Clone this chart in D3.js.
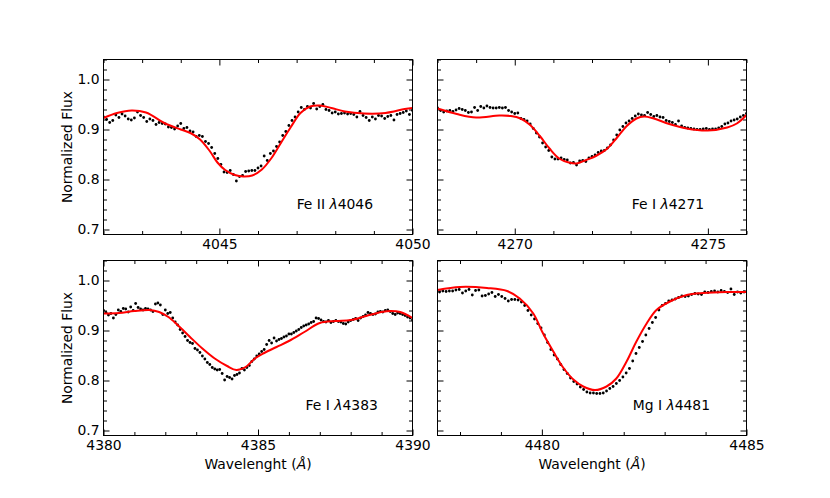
<!DOCTYPE html>
<html>
<head>
<meta charset="utf-8">
<script src="https://cdn.jsdelivr.net/npm/d3@7"></script>
<style>
  body { margin: 0; background: #fff; }
  svg { display: block; font-family: "DejaVu Sans", sans-serif; }
</style>
</head>
<body>
<div id="chart"></div>
<script>
// observed spectra are sampled every obsStep angstrom from their start wavelength
const obsStep = 0.08

const fe4046Start = 4042.0
const fe4046Obs = [0.925, 0.920, 0.914, 0.918, 0.929, 0.924, 0.931, 0.927, 0.921, 0.919,
  0.923, 0.935, 0.928, 0.924, 0.916, 0.921, 0.918, 0.910, 0.914, 0.912,
  0.911, 0.905, 0.904, 0.901, 0.907, 0.912, 0.902, 0.904, 0.897, 0.895,
  0.886, 0.888, 0.886, 0.876, 0.872, 0.864, 0.852, 0.842, 0.830, 0.815,
  0.814, 0.818, 0.810, 0.797, 0.806, 0.808, 0.816, 0.817, 0.818, 0.818,
  0.823, 0.827, 0.847, 0.838, 0.852, 0.857, 0.866, 0.875, 0.888, 0.896,
  0.908, 0.918, 0.925, 0.935, 0.944, 0.940, 0.946, 0.943, 0.952, 0.941,
  0.946, 0.950, 0.940, 0.938, 0.933, 0.935, 0.931, 0.932, 0.933, 0.931,
  0.932, 0.930, 0.925, 0.936, 0.928, 0.924, 0.918, 0.925, 0.921, 0.928,
  0.927, 0.922, 0.926, 0.928, 0.919, 0.930, 0.932, 0.934, 0.937, 0.930, 0.938]
const fe4046ModelWave = [4042.0, 4042.35, 4042.73, 4043.1, 4043.6, 4044.0, 4044.25, 4044.5, 4044.75,
  4044.95, 4045.15, 4045.4, 4045.62, 4045.85, 4046.1, 4046.35, 4046.6, 4046.85, 4047.1, 4047.35,
  4047.6, 4047.9, 4048.25, 4048.75, 4049.3, 4049.8, 4050.0]
const fe4046ModelFlux = [0.923, 0.933, 0.938, 0.934, 0.912, 0.900, 0.893, 0.880, 0.857,
  0.834, 0.819, 0.809, 0.806, 0.808, 0.820, 0.843, 0.874, 0.905, 0.933, 0.946,
  0.948, 0.943, 0.936, 0.932, 0.933, 0.941, 0.943]

const fe4271Start = 4268.0
const fe4271Obs = [0.943, 0.938, 0.935, 0.937, 0.938, 0.936, 0.939, 0.942, 0.940, 0.938,
  0.934, 0.935, 0.944, 0.938, 0.946, 0.943, 0.947, 0.944, 0.943, 0.943,
  0.944, 0.943, 0.944, 0.938, 0.935, 0.932, 0.933, 0.922, 0.920, 0.917,
  0.911, 0.902, 0.893, 0.885, 0.873, 0.865, 0.858, 0.845, 0.841, 0.841,
  0.843, 0.840, 0.839, 0.833, 0.834, 0.829, 0.837, 0.838, 0.836, 0.843,
  0.846, 0.849, 0.854, 0.857, 0.858, 0.863, 0.869, 0.879, 0.889, 0.899,
  0.906, 0.913, 0.917, 0.922, 0.927, 0.931, 0.929, 0.928, 0.934, 0.930,
  0.926, 0.928, 0.925, 0.924, 0.918, 0.916, 0.914, 0.910, 0.917, 0.907,
  0.904, 0.903, 0.902, 0.901, 0.900, 0.900, 0.901, 0.902, 0.900, 0.901,
  0.901, 0.903, 0.906, 0.911, 0.913, 0.917, 0.919, 0.921, 0.925, 0.928, 0.932]
const fe4271ModelWave = [4268.0, 4268.5, 4269.0, 4269.6, 4269.9, 4270.15, 4270.4, 4270.65, 4270.9,
  4271.15, 4271.4, 4271.6, 4271.85, 4272.1, 4272.4, 4272.65, 4272.9, 4273.15, 4273.35, 4273.6,
  4274.0, 4274.45, 4275.0, 4275.5, 4275.75, 4276.0]
const fe4271ModelFlux = [0.942, 0.931, 0.924, 0.928, 0.927, 0.922, 0.909, 0.887, 0.862,
  0.842, 0.834, 0.832, 0.839, 0.847, 0.862, 0.884, 0.907, 0.922, 0.926, 0.922,
  0.911, 0.902, 0.898, 0.904, 0.912, 0.929]

const fe4383Start = 4380.0
const fe4383Obs = [0.940, 0.936, 0.931, 0.934, 0.925, 0.932, 0.941, 0.938, 0.944, 0.943,
  0.937, 0.947, 0.940, 0.954, 0.946, 0.943, 0.941, 0.944, 0.943, 0.941,
  0.938, 0.953, 0.955, 0.951, 0.932, 0.941, 0.934, 0.936, 0.925, 0.917,
  0.911, 0.902, 0.895, 0.888, 0.880, 0.876, 0.874, 0.864, 0.861, 0.856,
  0.849, 0.843, 0.836, 0.832, 0.826, 0.823, 0.821, 0.822, 0.814, 0.801,
  0.808, 0.806, 0.803, 0.810, 0.812, 0.815, 0.824, 0.821, 0.826, 0.830,
  0.838, 0.843, 0.849, 0.853, 0.858, 0.862, 0.872, 0.880, 0.875, 0.885,
  0.879, 0.882, 0.884, 0.887, 0.889, 0.893, 0.893, 0.896, 0.899, 0.902,
  0.906, 0.909, 0.911, 0.913, 0.916, 0.918, 0.925, 0.924, 0.921, 0.918,
  0.917, 0.920, 0.916, 0.918, 0.920, 0.918, 0.917, 0.914, 0.913, 0.917,
  0.920, 0.922, 0.924, 0.920, 0.925, 0.928, 0.931, 0.936, 0.934, 0.932,
  0.933, 0.937, 0.938, 0.937, 0.940, 0.941, 0.938, 0.934, 0.932, 0.935,
  0.934, 0.932, 0.930, 0.927, 0.925, 0.921]
const fe4383ModelWave = [4380.0, 4380.5, 4381.0, 4381.5, 4381.8, 4382.1, 4382.4, 4382.8, 4383.2,
  4383.6, 4384.0, 4384.3, 4384.6, 4384.9, 4385.2, 4385.6, 4386.0, 4386.5, 4387.0, 4387.5,
  4388.0, 4388.5, 4389.0, 4389.3, 4389.6, 4390.0]
const fe4383ModelFlux = [0.934, 0.935, 0.939, 0.941, 0.937, 0.927, 0.911, 0.887, 0.864,
  0.844, 0.829, 0.821, 0.827, 0.844, 0.855, 0.867, 0.879, 0.897, 0.915, 0.919,
  0.921, 0.929, 0.937, 0.939, 0.937, 0.925]

const mg4481Start = 4477.5
const mg4481Obs = [0.977, 0.979, 0.978, 0.979, 0.979, 0.981, 0.982, 0.975, 0.979, 0.982,
  0.971, 0.980, 0.981, 0.969, 0.970, 0.973, 0.976, 0.968, 0.972, 0.968,
  0.964, 0.959, 0.962, 0.962, 0.961, 0.957, 0.950, 0.940, 0.931, 0.923,
  0.914, 0.905, 0.891, 0.876, 0.862, 0.851, 0.843, 0.832, 0.822, 0.814,
  0.805, 0.798, 0.793, 0.787, 0.782, 0.777, 0.775, 0.775, 0.774, 0.774,
  0.775, 0.779, 0.784, 0.788, 0.794, 0.800, 0.807, 0.815, 0.824, 0.839,
  0.854, 0.866, 0.878, 0.891, 0.904, 0.916, 0.926, 0.941, 0.950, 0.954,
  0.959, 0.961, 0.963, 0.966, 0.969, 0.968, 0.969, 0.972, 0.974, 0.973,
  0.972, 0.977, 0.976, 0.978, 0.979, 0.977, 0.980, 0.978, 0.976, 0.983,
  0.972, 0.977, 0.975, 0.977]
const mg4481ModelWave = [4477.45, 4478.0, 4478.66, 4479.15, 4479.46, 4479.79, 4480.03, 4480.28,
  4480.52, 4480.77, 4481.01, 4481.30, 4481.58, 4481.82, 4482.07, 4482.31, 4482.56, 4482.80,
  4483.13, 4483.54, 4483.94, 4484.51, 4485.0]
const mg4481ModelFlux = [0.981, 0.987, 0.985, 0.979, 0.964, 0.934, 0.894, 0.858,
  0.826, 0.802, 0.788, 0.781, 0.788, 0.804, 0.838, 0.878, 0.914, 0.941,
  0.958, 0.971, 0.975, 0.977, 0.977]

const lineNames = ["Fe II", "Fe I", "Fe I", "Mg I"]
const lineWaves = ["4046", "4271", "4383", "4481"]
const xDomains = [[4042, 4050], [4268, 4276], [4380, 4390], [4477.45, 4485]]
const yDomain = [0.69, 1.04]
const yTicks = [0.7, 0.8, 0.9, 1.0]
// where each line label starts, in data units of its panel
const labelWave = [4047.0, 4273.03, 4386.54, 4482.22]
const labelFlux = [0.741, 0.741, 0.741, 0.741]

const panels = [
  { start: fe4046Start, obs: fe4046Obs, wave: fe4046ModelWave, flux: fe4046ModelFlux },
  { start: fe4271Start, obs: fe4271Obs, wave: fe4271ModelWave, flux: fe4271ModelFlux },
  { start: fe4383Start, obs: fe4383Obs, wave: fe4383ModelWave, flux: fe4383ModelFlux },
  { start: mg4481Start, obs: mg4481Obs, wave: mg4481ModelWave, flux: mg4481ModelFlux }
]

const W = 830, H = 498
const colLeft = [103.5, 437.5]
const rowTop = [59.5, 260.5]
const pw = 309, ph = 175
const fontSize = "13.9px"

const svg = d3.select("#chart").append("svg")
  .attr("width", W)
  .attr("height", H)

svg.append("rect").attr("width", W).attr("height", H).attr("fill", "#fff")

panels.forEach(function (p, k) {
  let col = k % 2, row = Math.floor(k / 2)
  let x = d3.scaleLinear().domain(xDomains[k]).range([0, pw])
  let y = d3.scaleLinear().domain(yDomain).range([ph, 0])

  let g = svg.append("g")
    .attr("transform", "translate(" + colLeft[col] + "," + rowTop[row] + ")")

  svg.append("clipPath").attr("id", "clip" + k)
    .append("rect").attr("width", pw).attr("height", ph)

  let xd = xDomains[k]
  let xMajor = d3.range(Math.ceil(xd[0] / 5) * 5, xd[1] + 0.001, 5)
  let xMinor = d3.range(Math.ceil(xd[0]), xd[1] + 0.001, 1).filter(function (v) { return v % 5 !== 0 })
  let yMinor = d3.range(0.70, 1.041, 0.02).filter(function (v) { return Math.abs(v * 10 - Math.round(v * 10)) > 0.01 })

  // ticks point inward on all four sides
  function addAxis(axis, tr, labels) {
    let a = g.append("g").attr("transform", tr).call(axis)
    a.select(".domain").remove()
    a.selectAll("line").attr("stroke", "#000").attr("stroke-width", 1)
    a.selectAll("text")
      .attr("fill", "#000")
      .style("font-size", fontSize)
      .style("font-family", "'DejaVu Sans', sans-serif")
    if (!labels) a.selectAll("text").remove()
  }

  addAxis(d3.axisBottom(x).tickValues(xMajor).tickSize(-6).tickSizeOuter(0).tickPadding(5).tickFormat(d3.format("d")),
    "translate(0," + ph + ")", true)
  addAxis(d3.axisBottom(x).tickValues(xMinor).tickSize(-3.5).tickSizeOuter(0), "translate(0," + ph + ")", false)
  addAxis(d3.axisTop(x).tickValues(xMajor).tickSize(-6).tickSizeOuter(0), "translate(0,0)", false)
  addAxis(d3.axisTop(x).tickValues(xMinor).tickSize(-3.5).tickSizeOuter(0), "translate(0,0)", false)
  addAxis(d3.axisLeft(y).tickValues(yTicks).tickSize(-6).tickSizeOuter(0).tickPadding(4).tickFormat(d3.format(".1f")),
    "translate(0,0)", col === 0)
  addAxis(d3.axisLeft(y).tickValues(yMinor).tickSize(-3.5).tickSizeOuter(0), "translate(0,0)", false)
  addAxis(d3.axisRight(y).tickValues(yTicks).tickSize(-6).tickSizeOuter(0), "translate(" + pw + ",0)", false)
  addAxis(d3.axisRight(y).tickValues(yMinor).tickSize(-3.5).tickSizeOuter(0), "translate(" + pw + ",0)", false)

  let plot = g.append("g").attr("clip-path", "url(#clip" + k + ")")

  // observed points
  plot.selectAll(".obs")
    .data(p.obs)
    .enter()
    .append("circle")
    .attr("class", "obs")
    .attr("cx", function (d, i) { return x(p.start + i * obsStep) })
    .attr("cy", function (d) { return y(d) })
    .attr("r", 1.4)
    .attr("fill", "#000")

  // synthetic fit
  let line = d3.line()
    .x(function (d) { return x(d[0]) })
    .y(function (d) { return y(d[1]) })
    .curve(d3.curveCatmullRom.alpha(0.5))
  plot.append("path")
    .datum(p.wave.map(function (w, i) { return [w, p.flux[i]] }))
    .attr("d", line)
    .attr("fill", "none")
    .attr("stroke", "#ff0000")
    .attr("stroke-width", 2)

  g.append("rect")
    .attr("width", pw)
    .attr("height", ph)
    .attr("fill", "none")
    .attr("stroke", "#000")
    .attr("stroke-width", 1)

  let lab = g.append("text")
    .attr("x", x(labelWave[k]))
    .attr("y", y(labelFlux[k]))
    .style("font-size", fontSize)
    .attr("fill", "#000")
  lab.append("tspan").text(lineNames[k] + " ")
  lab.append("tspan").style("font-style", "italic").text("λ")
  lab.append("tspan").text(lineWaves[k])

  if (col === 0) {
    g.append("text")
      .attr("transform", "translate(-32," + ph / 2 + ") rotate(-90)")
      .attr("text-anchor", "middle")
      .style("font-size", fontSize)
      .attr("fill", "#000")
      .text("Normalized Flux")
  }
  if (row === 1) {
    let xl = g.append("text")
      .attr("x", pw / 2)
      .attr("y", ph + 33)
      .attr("text-anchor", "middle")
      .style("font-size", fontSize)
      .attr("fill", "#000")
    xl.append("tspan").text("Wavelenght (")
    xl.append("tspan").style("font-style", "italic").text("Å")
    xl.append("tspan").text(")")
  }
})
</script>
</body>
</html>
